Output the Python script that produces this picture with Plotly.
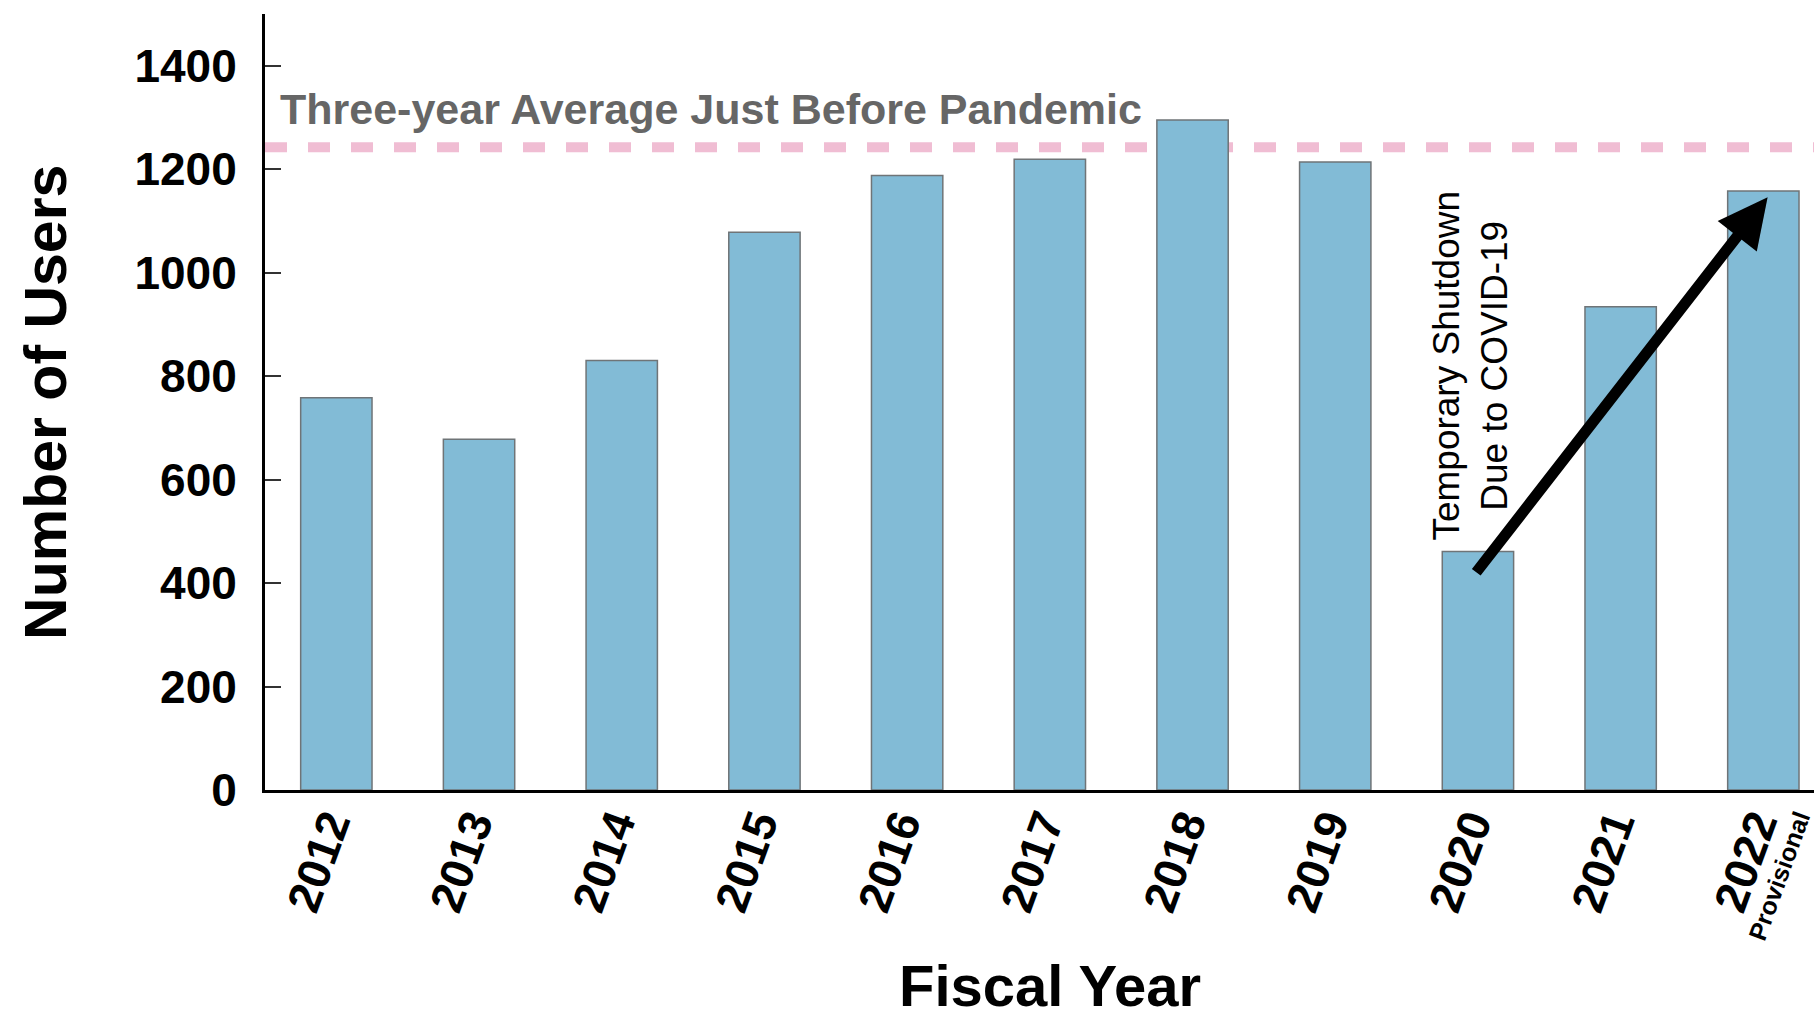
import plotly.graph_objects as go

# ---- data ----
years = ["2012", "2013", "2014", "2015", "2016", "2017", "2018", "2019", "2020", "2021", "2022"]
users = [758, 678, 830, 1078, 1188, 1219, 1295, 1214, 461, 934, 1158]
avg_years = ["2017", "2018", "2019"]
y_ticks = [0, 200, 400, 600, 800, 1000, 1200, 1400]
avg_label = "Three-year Average Just Before Pandemic"
covid_label = "Temporary Shutdown<br>Due to COVID-19"
provisional_label = "Provisional"
x_title = "Fiscal Year"
y_title = "Number of Users"

avg_value = sum(users[years.index(y)] for y in avg_years) / len(avg_years)
i2020 = years.index("2020")
i2022 = years.index("2022")

FONT = "Liberation Sans, Arial, Helvetica, sans-serif"

fig = go.Figure()
fig.add_trace(go.Bar(
    x=years, y=users, width=0.5,
    marker=dict(color="#82BBD6", line=dict(color="#6F7477", width=1.5)),
    showlegend=False, hoverinfo="x+y",
))

fig.add_shape(type="line", xref="paper", yref="y", x0=0, x1=1,
              y0=avg_value, y1=avg_value, layer="below",
              line=dict(color="#F0BDD3", width=10, dash="22px,21px"))

fig.add_annotation(text=avg_label, xref="x", yref="y", x=-0.41, y=1316,
                   xanchor="left", yanchor="middle", showarrow=False,
                   font=dict(family=FONT, size=43, color="#666666", weight="bold"))

fig.add_annotation(text=covid_label, xref="x", yref="y", x=7.95, y=820,
                   xanchor="center", yanchor="middle", showarrow=False,
                   textangle=-90, align="center",
                   font=dict(family=FONT, size=37, color="#000000"))

fig.add_annotation(text="", xref="x", yref="y", x=i2022 + 0.03, y=users[i2022] - 12,
                   axref="x", ayref="y", ax=i2020 - 0.02, ay=users[i2020] - 43,
                   showarrow=True, arrowhead=2, arrowsize=0.9, arrowwidth=11,
                   arrowcolor="#000000", standoff=0)

fig.add_annotation(text=provisional_label, xref="x", yref="paper", x=10.11, y=-0.111,
                   xanchor="center", yanchor="middle", showarrow=False, textangle=-70,
                   font=dict(family=FONT, size=25, color="#000000", weight="bold"))

# axis titles
fig.add_annotation(text=y_title, xref="paper", yref="paper", x=-0.1414, y=0.5,
                   xanchor="center", yanchor="middle", showarrow=False, textangle=-90,
                   font=dict(family=FONT, size=59, color="#000000", weight="bold"))
fig.add_annotation(text=x_title, xref="paper", yref="paper", x=0.5068, y=-0.2945,
                   xanchor="center", yanchor="bottom", showarrow=False, borderpad=0,
                   font=dict(family=FONT, size=58, color="#000000", weight="bold"))

fig.update_layout(
    width=1814, height=1019,
    margin=dict(l=265, r=0, t=14, b=229, autoexpand=False),
    paper_bgcolor="white", plot_bgcolor="white",
    font=dict(family=FONT, color="#000000"),
    bargap=0.5,
)

fig.update_xaxes(
    type="category", range=[-0.5, 10.355], automargin=False,
    showline=True, linecolor="#000000", linewidth=3,
    showgrid=False, zeroline=False, ticks="",
    tickangle=-70, ticklabelstandoff=-14, ticklabelshift=-7,
    tickfont=dict(family=FONT, size=46, color="#000000", weight="bold"),
)
fig.update_yaxes(
    range=[0, 1500], tickvals=y_ticks, automargin=False,
    showline=True, linecolor="#000000", linewidth=3,
    showgrid=False, zeroline=False,
    ticks="inside", ticklen=16, tickwidth=1.5, tickcolor="#333333",
    ticklabelstandoff=16,
    tickfont=dict(family=FONT, size=46, color="#000000", weight="bold"),
)

fig.write_html("out.html")
